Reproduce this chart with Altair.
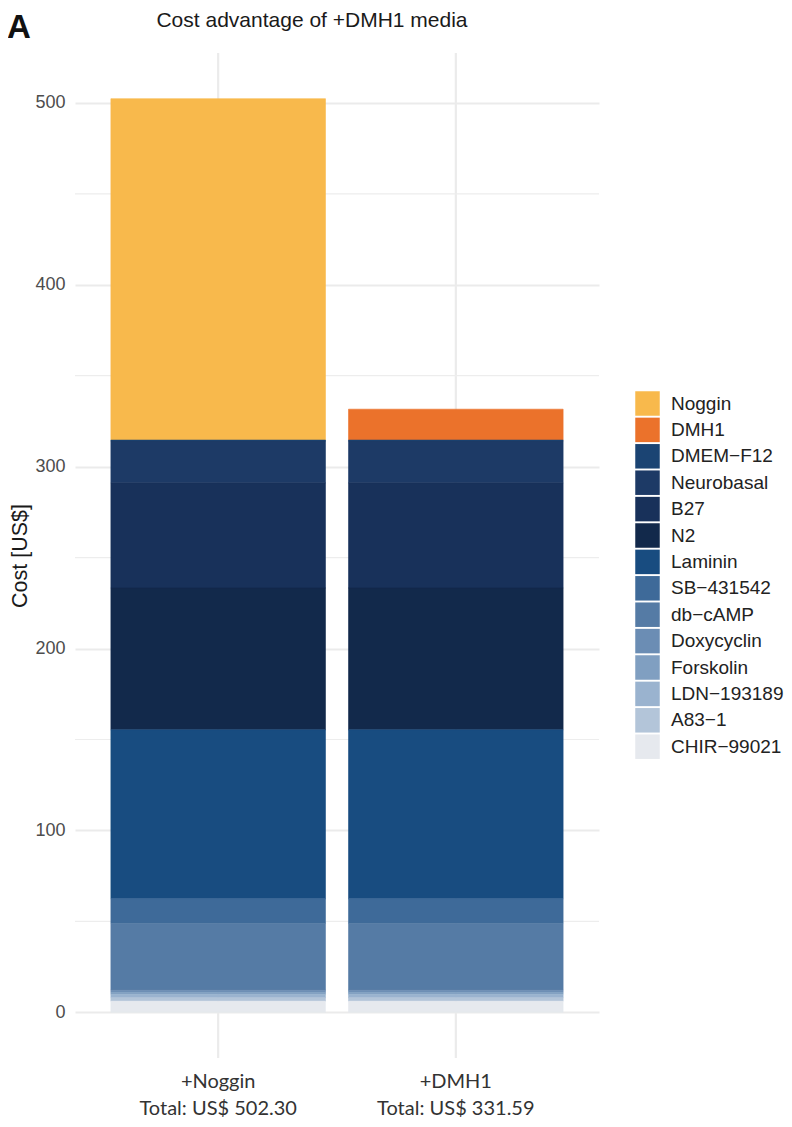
import altair as alt
import pandas as pd

# ---- data ----
conditions = ["+Noggin", "+DMH1"]
total_labels = ["Total: US$ 502.30", "Total: US$ 331.59"]
components = ["Noggin", "DMH1", "DMEM\u2212F12", "Neurobasal", "B27", "N2", "Laminin",
              "SB\u2212431542", "db\u2212cAMP", "Doxycyclin", "Forskolin",
              "LDN\u2212193189", "A83\u22121", "CHIR\u221299021"]
colors = ["#f8b94c", "#eb722b", "#1b4473", "#1d3a66", "#18315a", "#12294b", "#184c80",
          "#3e6a99", "#557ba5", "#6b8db4", "#809fc1", "#9ab3cf", "#b3c5d9", "#e6e9ee"]
noggin_costs = [187.70, 0.0, 0.5, 23.0, 57.8, 78.0, 92.9, 13.5, 36.8, 1.1, 1.1, 1.9, 1.9, 6.1]
dmh1_costs = [0.0, 16.99, 0.5, 23.0, 57.8, 78.0, 92.9, 13.5, 36.8, 1.1, 1.1, 1.9, 1.9, 6.1]
y_ticks = [0, 100, 200, 300, 400, 500]
y_minor = [50, 150, 250, 350, 450]
title_text = "Cost advantage of +DMH1 media"
panel_tag = "A"

rows = []
n = len(components)
for cond, costs in zip(conditions, [noggin_costs, dmh1_costs]):
    for i, (comp, c) in enumerate(zip(components, costs)):
        if c > 0:
            rows.append({"cond": cond, "component": comp, "value": c, "rank": n - 1 - i})
df = pd.DataFrame(rows)

W, H = 524, 1005
xscale = alt.Scale(type="band", domain=conditions, paddingInner=0.097, paddingOuter=0.151)
yscale = alt.Scale(domain=[-25.115, 527.415], nice=False, zero=False)
cscale = alt.Scale(domain=components, range=colors)

label_map = " : ".join(
    f"datum.label == '{c}' ? ['{c}', '{t}']" for c, t in zip(conditions, total_labels)
) + " : datum.label"

xaxis = alt.Axis(title=None, grid=False, ticks=False, tickSize=0, domain=False,
                 labelExpr=label_map, labelFont="Lato", labelFontSize=20,
                 labelColor="#333333", labelLineHeight=26.5, labelBaseline="alphabetic",
                 labelPadding=29.5, labelAngle=0)
yaxis = alt.Axis(title="Cost [US$]", values=y_ticks, grid=True, gridColor="#ebebeb",
                 gridWidth=2, ticks=False, tickSize=0, domain=False,
                 labelFont="Liberation Sans", labelFontSize=18, labelColor="#4d4d4d",
                 labelPadding=10, titleFont="Liberation Sans", titleFontSize=21.5,
                 titleFontWeight="normal", titleColor="#1a1a1a", titlePadding=3)

vgrid = alt.Chart(pd.DataFrame({"cond": conditions})).mark_rule(
    color="#ebebeb", strokeWidth=2.2
).encode(x=alt.X("cond:N", scale=xscale, axis=xaxis, sort=conditions))

mgrid = alt.Chart(pd.DataFrame({"value": y_minor})).mark_rule(
    color="#ededed", strokeWidth=1.2
).encode(y=alt.Y("value:Q", scale=yscale, axis=yaxis))

bars = alt.Chart(df).mark_bar(strokeWidth=0.6).encode(
    x=alt.X("cond:N", scale=xscale, axis=xaxis, sort=conditions),
    y=alt.Y("sum(value):Q", scale=yscale, axis=yaxis, stack="zero"),
    color=alt.Color("component:N", scale=cscale,
                    legend=alt.Legend(title=None, orient="none", legendX=560, legendY=338,
                                      symbolType="square", symbolSize=600,
                                      symbolStrokeWidth=0, symbolOpacity=1,
                                      labelFont="Liberation Sans", labelFontSize=19,
                                      labelColor="#222222", labelOffset=11,
                                      rowPadding=1.4, padding=0)),
    stroke=alt.Stroke("component:N", scale=cscale, legend=None),
    order=alt.Order("rank:Q", sort="ascending"),
)

title = alt.Chart(pd.DataFrame({"t": [title_text]})).mark_text(
    font="Liberation Sans", fontSize=21, color="#1a1a1a", align="center", baseline="alphabetic"
).encode(x=alt.value(237), y=alt.value(-26.5), text="t:N")

tag = alt.Chart(pd.DataFrame({"t": [panel_tag]})).mark_text(
    font="Liberation Sans", fontSize=33, fontWeight="bold", color="#111111",
    align="left", baseline="alphabetic"
).encode(x=alt.value(-68), y=alt.value(-15), text="t:N")

chart = alt.layer(vgrid, mgrid, bars, title, tag).properties(
    width=W, height=H,
    autosize=alt.AutoSizeParams(type="none"),
    padding={"left": 67, "top": 45, "right": 185, "bottom": 61},
).configure_view(stroke=None)

chart.save("out.html", embed_options={"renderer": "svg", "actions": False})
